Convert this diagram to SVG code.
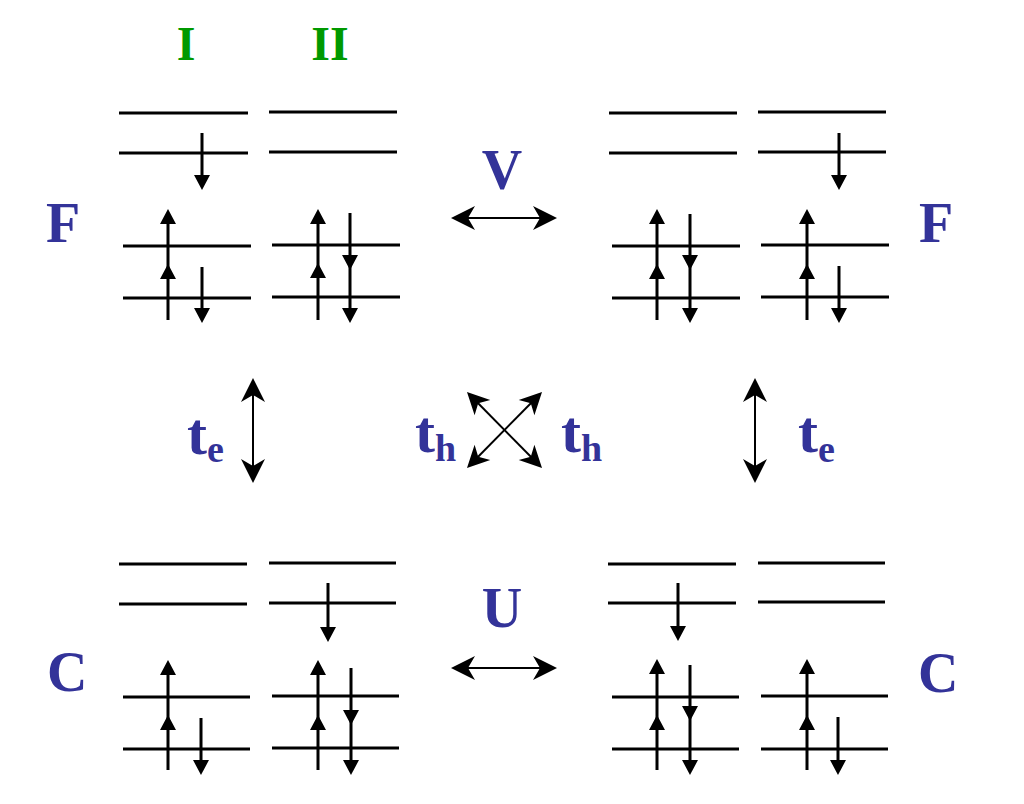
<svg xmlns="http://www.w3.org/2000/svg" xmlns:xlink="http://www.w3.org/1999/xlink" width="1024" height="804" viewBox="0 0 1024 804">
<style>
.lv{stroke:#000;stroke-width:3;fill:none}
.sh{stroke:#000;stroke-width:3;fill:none}
.cn{stroke:#000;stroke-width:2;fill:none}
.lbl{font-family:"Liberation Serif","Times New Roman",serif;font-weight:bold;fill:#333399}
.grn{font-family:"Liberation Serif","Times New Roman",serif;font-weight:bold;fill:#009900}
</style>
<defs>
<path id="hu" d="M0,0 L-8,15 L8,15 Z" fill="#000"/>
<path id="hd" d="M0,0 L-8,-15 L8,-15 Z" fill="#000"/>
<marker id="ah" markerUnits="userSpaceOnUse" viewBox="-20 -13 28 26" markerWidth="28" markerHeight="26" refX="0" refY="0" orient="auto-start-reverse">
<path d="M6,0 L-18,-12 L-11,0 L-18,12 Z" fill="#000"/>
</marker>
<marker id="ahs" markerUnits="userSpaceOnUse" viewBox="-20 -13 28 26" markerWidth="28" markerHeight="26" refX="0" refY="0" orient="auto-start-reverse">
<path d="M5,0 L-17,-11 L-11,0 L-17,11 Z" fill="#000"/>
</marker>
</defs>
<rect width="1024" height="804" fill="#fff"/>

<g id="labels">
<text class="grn" x="186" y="60" font-size="48" text-anchor="middle">I</text>
<text class="grn" x="330" y="60" font-size="48" text-anchor="middle">II</text>
<text class="lbl" x="46" y="242" font-size="56">F</text>
<text class="lbl" x="919" y="242" font-size="56">F</text>
<text class="lbl" x="47" y="691" font-size="56">C</text>
<text class="lbl" x="918" y="692" font-size="56">C</text>
<text class="lbl" x="502" y="189" font-size="56" text-anchor="middle">V</text>
<text class="lbl" x="502" y="627" font-size="56" text-anchor="middle">U</text>
<text class="lbl" x="187" y="454" font-size="60">t<tspan font-size="38" dy="8">e</tspan></text>
<text class="lbl" x="798" y="452" font-size="60">t<tspan font-size="38" dy="10">e</tspan></text>
<text class="lbl" x="415" y="452" font-size="60">t<tspan font-size="38" dy="9">h</tspan></text>
<text class="lbl" x="561" y="452" font-size="60">t<tspan font-size="38" dy="9">h</tspan></text>
</g>

<g id="config-F-left">
<path class="lv" d="M119,113H248M119,153H248M123,246H251M123,298H251M269,112H397M269,152H397M272,245H400M272,297H400"/>
<path class="sh" d="M202,133V180M168,320V215M202,267V313M318,320V215M350,213V313"/>
<use xlink:href="#hd" x="202" y="190"/>
<use xlink:href="#hu" x="168" y="209"/>
<use xlink:href="#hu" x="168" y="264"/>
<use xlink:href="#hd" x="202" y="323"/>
<use xlink:href="#hu" x="318" y="209"/>
<use xlink:href="#hu" x="318" y="263"/>
<use xlink:href="#hd" x="350" y="270"/>
<use xlink:href="#hd" x="350" y="323"/>
</g>

<g id="config-F-right">
<path class="lv" d="M609,113H737M609,153H737M612,246H740M612,298H740M758,112H886M758,152H886M761,245H889M761,297H889"/>
<path class="sh" d="M657,320V215M690,214V313M839,133V180M807,320V215M839,266V313"/>
<use xlink:href="#hu" x="657" y="209"/>
<use xlink:href="#hu" x="657" y="264"/>
<use xlink:href="#hd" x="690" y="270"/>
<use xlink:href="#hd" x="690" y="323"/>
<use xlink:href="#hd" x="839" y="190"/>
<use xlink:href="#hu" x="807" y="209"/>
<use xlink:href="#hu" x="807" y="264"/>
<use xlink:href="#hd" x="839" y="323"/>
</g>

<g id="config-C-left">
<path class="lv" d="M119,564H247M119,604H247M123,697H250M123,749H250M269,563H396M269,603H396M272,696H399M272,748H399"/>
<path class="sh" d="M168,770V666M201,718V765M328,583V632M318,770V666M351,668V765"/>
<use xlink:href="#hu" x="168" y="660"/>
<use xlink:href="#hu" x="168" y="715"/>
<use xlink:href="#hd" x="201" y="775"/>
<use xlink:href="#hd" x="328" y="642"/>
<use xlink:href="#hu" x="318" y="660"/>
<use xlink:href="#hu" x="318" y="715"/>
<use xlink:href="#hd" x="351" y="725"/>
<use xlink:href="#hd" x="351" y="775"/>
</g>

<g id="config-C-right">
<path class="lv" d="M608,564H736M608,603H736M612,697H739M612,749H739M758,563H885M758,602H885M761,696H888M761,749H888"/>
<path class="sh" d="M678,583V631M657,770V665M690,665V765M807,770V665M838,717V765"/>
<use xlink:href="#hd" x="678" y="641"/>
<use xlink:href="#hu" x="657" y="659"/>
<use xlink:href="#hu" x="657" y="715"/>
<use xlink:href="#hd" x="690" y="721"/>
<use xlink:href="#hd" x="690" y="775"/>
<use xlink:href="#hu" x="807" y="659"/>
<use xlink:href="#hu" x="807" y="715"/>
<use xlink:href="#hd" x="838" y="775"/>
</g>

<g id="connectors">
<line class="cn" x1="457" y1="218" x2="551" y2="218" marker-start="url(#ah)" marker-end="url(#ah)"/>
<line class="cn" x1="457" y1="668" x2="551" y2="668" marker-start="url(#ah)" marker-end="url(#ah)"/>
<line class="cn" x1="253" y1="384" x2="253" y2="477" marker-start="url(#ah)" marker-end="url(#ah)"/>
<line class="cn" x1="755" y1="384" x2="755" y2="477" marker-start="url(#ah)" marker-end="url(#ah)"/>
<line class="cn" x1="470.5" y1="395.5" x2="538.5" y2="464.5" marker-start="url(#ahs)" marker-end="url(#ahs)"/>
<line class="cn" x1="538.5" y1="395.5" x2="470.5" y2="464.5" marker-start="url(#ahs)" marker-end="url(#ahs)"/>
</g>
</svg>
